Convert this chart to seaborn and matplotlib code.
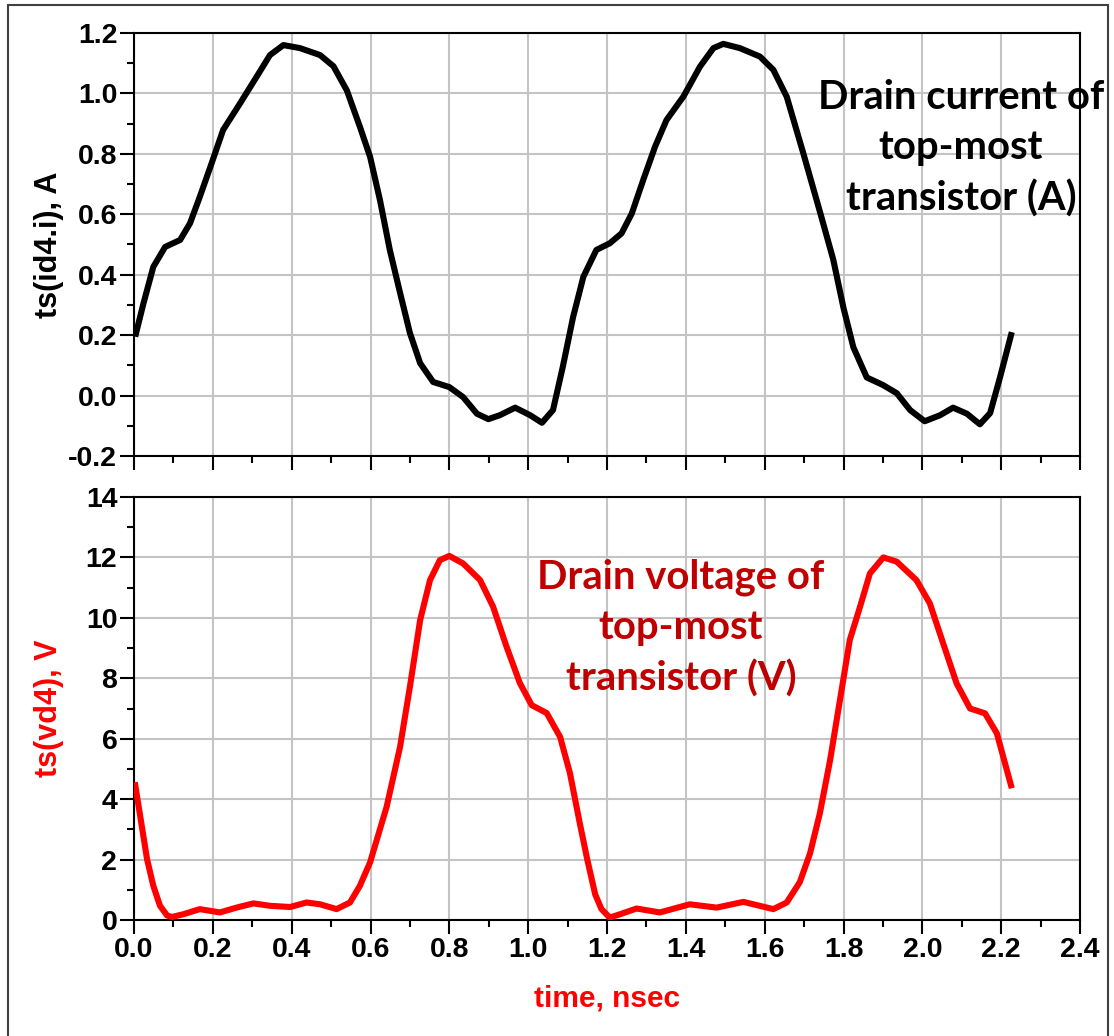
import matplotlib
matplotlib.use("Agg")
import matplotlib.pyplot as plt
from matplotlib.ticker import MultipleLocator, FormatStrFormatter
from matplotlib.patches import Rectangle
import pandas as pd
import seaborn as sns

# Drain current of the top-most transistor, ts(id4.i) [A] vs time [ns]
time_id = [0.003, 0.024, 0.049, 0.079, 0.117, 0.142, 0.167, 0.197, 0.226, 0.269,
           0.311, 0.345, 0.379, 0.421, 0.472, 0.506, 0.540, 0.573, 0.599, 0.624,
           0.649, 0.675, 0.700, 0.726, 0.759, 0.800, 0.835, 0.870, 0.899, 0.928,
           0.967, 1.005, 1.035, 1.063, 1.088, 1.114, 1.140, 1.173, 1.207, 1.237,
           1.263, 1.292, 1.322, 1.351, 1.394, 1.436, 1.470, 1.495, 1.537, 1.588,
           1.622, 1.656, 1.698, 1.742, 1.774, 1.800, 1.825, 1.859, 1.900, 1.935,
           1.969, 2.006, 2.045, 2.078, 2.113, 2.146, 2.172, 2.197, 2.227]
id4_current = [0.195, 0.305, 0.426, 0.492, 0.515, 0.570, 0.658, 0.769, 0.879, 0.967,
               1.055, 1.127, 1.160, 1.150, 1.127, 1.090, 1.010, 0.890, 0.790, 0.647,
               0.482, 0.340, 0.207, 0.107, 0.045, 0.028, -0.005, -0.060, -0.078, -0.065,
               -0.040, -0.065, -0.090, -0.048, 0.096, 0.260, 0.393, 0.482, 0.504, 0.537,
               0.603, 0.714, 0.824, 0.912, 0.990, 1.089, 1.150, 1.164, 1.150, 1.122,
               1.078, 0.989, 0.802, 0.600, 0.450, 0.290, 0.160, 0.060, 0.035, 0.008,
               -0.048, -0.085, -0.065, -0.040, -0.060, -0.095, -0.058, 0.060, 0.210]

# Drain voltage of the top-most transistor, ts(vd4) [V] vs time [ns]
time_vd = [0.002, 0.015, 0.033, 0.049, 0.066, 0.084, 0.096, 0.125, 0.167, 0.218,
           0.260, 0.303, 0.345, 0.396, 0.438, 0.472, 0.514, 0.548, 0.573, 0.599,
           0.641, 0.675, 0.700, 0.726, 0.751, 0.776, 0.800, 0.835, 0.878, 0.911,
           0.945, 0.979, 1.009, 1.047, 1.081, 1.106, 1.131, 1.150, 1.170, 1.186,
           1.207, 1.233, 1.275, 1.334, 1.410, 1.478, 1.546, 1.622, 1.656, 1.689,
           1.715, 1.740, 1.766, 1.791, 1.816, 1.842, 1.867, 1.901, 1.935, 1.985,
           2.019, 2.053, 2.087, 2.121, 2.159, 2.189, 2.227]
vd4_voltage = [4.56, 3.50, 2.02, 1.13, 0.47, 0.15, 0.10, 0.19, 0.36, 0.25,
               0.41, 0.55, 0.47, 0.43, 0.58, 0.52, 0.36, 0.58, 1.13, 1.91,
               3.75, 5.73, 7.72, 9.93, 11.25, 11.91, 12.05, 11.80, 11.25, 10.37,
               9.05, 7.84, 7.11, 6.85, 6.06, 4.86, 3.20, 2.00, 0.85, 0.36,
               0.08, 0.19, 0.38, 0.25, 0.52, 0.41, 0.60, 0.36, 0.58, 1.25,
               2.20, 3.53, 5.29, 7.28, 9.27, 10.37, 11.47, 12.00, 11.86, 11.25,
               10.48, 9.15, 7.83, 7.00, 6.84, 6.18, 4.36]

current_df = pd.DataFrame({"time": time_id, "current": id4_current})
voltage_df = pd.DataFrame({"time": time_vd, "voltage": vd4_voltage})

sns.set_style("white")
plt.rcParams["font.family"] = ["Liberation Sans", "DejaVu Sans"]
plt.rcParams["font.weight"] = "bold"
plt.rcParams["axes.labelweight"] = "bold"
plt.rcParams["axes.unicode_minus"] = False

W, H = 1114, 1036
fig = plt.figure(figsize=(W / 100, H / 100), dpi=100)
ax1 = fig.add_axes([134 / W, 1 - 456 / H, 946 / W, 423 / H])
ax2 = fig.add_axes([134 / W, 1 - 920 / H, 946 / W, 423 / H])

sns.lineplot(data=current_df, x="time", y="current", ax=ax1, color="black",
             lw=4.4, sort=False, estimator=None, zorder=3,
             solid_joinstyle="round", solid_capstyle="butt")
sns.lineplot(data=voltage_df, x="time", y="voltage", ax=ax2, color="#ff0000",
             lw=4.4, sort=False, estimator=None, zorder=3,
             solid_joinstyle="round", solid_capstyle="butt")

for ax in (ax1, ax2):
    ax.set_xlim(0, 2.4)
    ax.xaxis.set_major_locator(MultipleLocator(0.2))
    ax.xaxis.set_minor_locator(MultipleLocator(0.1))
    ax.xaxis.set_major_formatter(FormatStrFormatter("%.1f"))
    ax.set_axisbelow(True)
    ax.grid(True, which="major", color="#c4c4c4", lw=1.5)
    for sp in ax.spines.values():
        sp.set_visible(True)
        sp.set_color("black")
        sp.set_linewidth(1.5)
    ax.tick_params(which="major", direction="out", length=10, width=1.5,
                   labelsize=20.5, pad=2, color="black", labelcolor="black")
    ax.tick_params(which="minor", direction="out", length=5, width=1.5,
                   color="black")
    ax.tick_params(left=True, bottom=True, top=False, right=False, which="both")

ax1.set_ylim(-0.2, 1.2)
ax1.yaxis.set_major_locator(MultipleLocator(0.2))
ax1.yaxis.set_minor_locator(MultipleLocator(0.1))
ax1.yaxis.set_major_formatter(FormatStrFormatter("%.1f"))
ax1.tick_params(labelbottom=False)
ax1.set_xlabel("")
ax1.set_ylabel("ts(id4.i), A", fontsize=22, color="black")
ax1.yaxis.set_label_coords(-0.074, 0.5)

ax2.set_ylim(0, 14)
ax2.yaxis.set_major_locator(MultipleLocator(2))
ax2.yaxis.set_minor_locator(MultipleLocator(1))
ax2.yaxis.set_major_formatter(FormatStrFormatter("%d"))
ax2.set_ylabel("ts(vd4), V", fontsize=22, color="#ff0000")
ax2.yaxis.set_label_coords(-0.074, 0.5)
ax2.set_xlabel("time, nsec", fontsize=21.5, color="#ff0000")
ax2.xaxis.set_label_coords(0.5, -0.152)

ax1.text((961 - 134) / 946, (456 - 148) / 423,
         "Drain current of\ntop-most\ntransistor (A)",
         transform=ax1.transAxes, ha="center", va="center",
         fontsize=28.8, fontweight="bold", family=["Lato", "DejaVu Sans"],
         color="black", linespacing=1.43, zorder=4)
ax2.text((681 - 134) / 946, (920 - 628) / 423,
         "Drain voltage of\ntop-most\ntransistor (V)",
         transform=ax2.transAxes, ha="center", va="center",
         fontsize=28.8, fontweight="bold", family=["Lato", "DejaVu Sans"],
         color="#c00000", linespacing=1.43, zorder=4)

# thin frame around the whole figure
fig.add_artist(Rectangle((8 / W, -0.02), 1100 / W, (H - 5) / H + 0.02,
                         transform=fig.transFigure, fill=False, lw=1.5,
                         ec="#404040"))

fig.savefig("out.png", dpi=100)
